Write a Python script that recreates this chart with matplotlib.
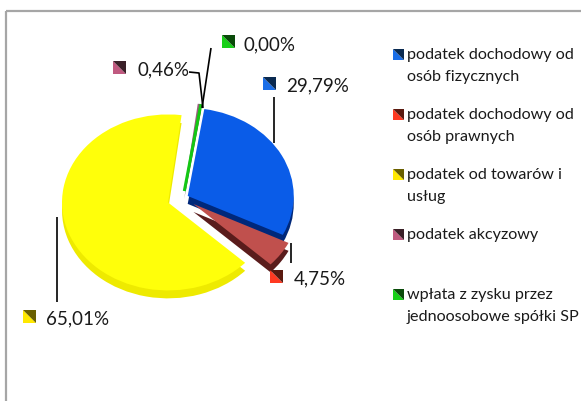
import matplotlib
matplotlib.use("Agg")
import matplotlib.pyplot as plt
from matplotlib.patches import Polygon, Rectangle

plt.rcParams['font.family'] = ['Lato', 'DejaVu Sans']

# ---- data ----
categories = ["podatek dochodowy od\nosób fizycznych",
              "podatek dochodowy od\nosób prawnych",
              "podatek od towarów i\nusług",
              "podatek akcyzowy",
              "wpłata z zysku przez\njednoosobowe spółki SP"]
values = [29.79, 4.75, 65.01, 0.46, 0.00]
value_labels = ["29,79%", "4,75%", "65,01%", "0,46%", "0,00%"]

face_colors = ['#0a5ce8', '#c0504d', '#ffff0a', '#9b5a7e', '#14c814']
side_colors = ['#00287a', '#5a1c1c', '#eeea00', '#4a2a3a', '#0a6a0a']
key_bright = ['#1a6ee8', '#ff3a22', '#ffe800', '#c05a80', '#18d018']
key_dark = ['#0a2a50', '#5a1a10', '#6a6000', '#3a2028', '#0a4a0a']
explode = [0.05, 0.12, 0.15, 0.08, 0.08]

# ---- layout (pixels) ----
W, H = 581, 401
CX, CY, RX, RY = 183, 198, 106, 88
DEPTH = 0.09

fig = plt.figure(figsize=(W / 100, H / 100), dpi=100)
ax = fig.add_axes([0, 0, 1, 1])

# depth (side faces)
sw, _ = ax.pie(values, colors=side_colors, startangle=81, counterclock=False,
               explode=explode, center=(0, -DEPTH), radius=1,
               wedgeprops=dict(linewidth=0))
# top faces
fw, _ = ax.pie(values, colors=face_colors, startangle=81, counterclock=False,
               explode=explode, center=(0, 0), radius=1,
               wedgeprops=dict(linewidth=0))
fw[4].set_edgecolor(face_colors[4])
fw[4].set_linewidth(2.2)
sw[4].set_visible(False)

ax.set_aspect('auto')
ax.set_xlim((0 - CX) / RX, (W - CX) / RX)
ax.set_ylim((CY - H) / RY, CY / RY)
ax.axis('off')

# overlay in pixel coordinates
ov = fig.add_axes([0, 0, 1, 1], zorder=5)
ov.set_xlim(0, W)
ov.set_ylim(H, 0)
ov.axis('off')

# chart border
ov.add_patch(Rectangle((6, 11), 600, 420, fill=False, edgecolor='#a6a6a6', lw=1.6))


def key(x, y, s, bright, dark):
    ov.add_patch(Polygon([(x, y), (x, y + s), (x + s, y + s)], closed=True,
                         facecolor=bright, edgecolor='none'))
    ov.add_patch(Polygon([(x, y), (x + s, y), (x + s, y + s)], closed=True,
                         facecolor=dark, edgecolor='none'))


# data labels: (square x, square y, text x, text baseline)
label_pos = [(263, 77, 286, 91),
             (270, 270, 294, 284),
             (23, 310, 46, 324),
             (113, 61, 137, 75),
             (222, 35, 244, 50)]
for i, (sx, sy, tx, ty) in enumerate(label_pos):
    key(sx, sy, 12.5, key_bright[i], key_dark[i])
    ov.text(tx, ty, value_labels[i], fontsize=13.5, color='#1a1a1a',
            va='baseline', ha='left')

# leader lines
leaders = [([274, 274], [97, 143]),
           ([291, 291], [243, 263]),
           ([57, 57], [217, 302]),
           ([189, 199, 203], [72, 73, 108]),
           ([211, 202], [48, 108])]
for xs, ys in leaders:
    ov.plot(xs, ys, color='black', lw=1.2, solid_capstyle='butt')

# legend
for i, lab in enumerate(categories):
    y0 = 59 + 60 * i
    key(393, y0 - 10, 10.5, key_bright[i], key_dark[i])
    for j, line in enumerate(lab.split("\n")):
        ov.text(407, y0 + 22 * j, line, fontsize=11.6, color='#1a1a1a',
                va='baseline', ha='left')

fig.savefig('out.png', dpi=100)
